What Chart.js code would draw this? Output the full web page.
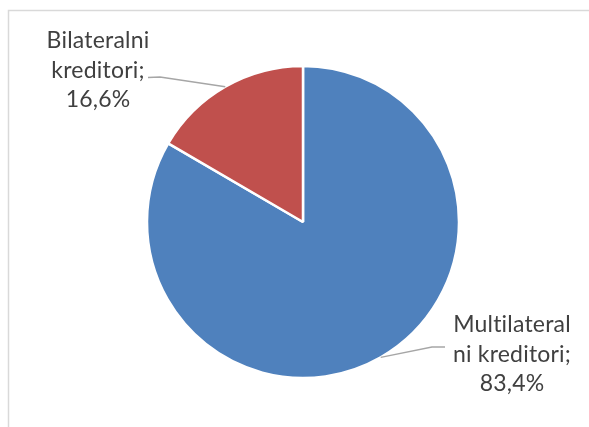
<!DOCTYPE html>
<html>
<head>
<meta charset="utf-8">
<script src="https://cdn.jsdelivr.net/npm/chart.js@4/dist/chart.umd.min.js"></script>
<style>
html,body{margin:0;padding:0;background:#fff;}
#wrap{position:relative;width:589px;height:427px;}
</style>
</head>
<body>
<div id="wrap"><canvas id="c" width="589" height="427"></canvas></div>
<script>
const categories = ["Bilateralni kreditori", "Multilateralni kreditori"];
const labelLines = [["Bilateralni", "kreditori;", "16,6%"], ["Multilateral", "ni kreditori;", "83,4%"]];
const shares = [16.6, 83.4];
const colors = ["#C0504D", "#4F81BD"];

// draw order: Multilateral first (from 12 o'clock clockwise), then Bilateral
const order = [1, 0];

const labelPlugin = {
  id: 'pieLabels',
  afterDatasetsDraw(chart, args, opts) {
    const ctx = chart.ctx;
    const meta = chart.getDatasetMeta(0);
    ctx.save();
    // frame
    ctx.strokeStyle = '#D9D9D9';
    ctx.lineWidth = 1.5;
    ctx.beginPath();
    ctx.moveTo(8.5, 430);
    ctx.lineTo(8.5, 10.5);
    ctx.lineTo(600, 10.5);
    ctx.stroke();

    const cfg = opts.items;
    meta.data.forEach((arc, i) => {
      const p = arc.getProps(['x', 'y', 'startAngle', 'endAngle', 'outerRadius'], true);
      const mid = (p.startAngle + p.endAngle) / 2;
      const sx = p.x + Math.cos(mid) * p.outerRadius;
      const sy = p.y + Math.sin(mid) * p.outerRadius;
      const c = cfg[i];
      ctx.strokeStyle = '#A6A6A6';
      ctx.lineWidth = 1.3;
      ctx.beginPath();
      ctx.moveTo(sx, sy);
      ctx.lineTo(c.elbow[0], c.elbow[1]);
      ctx.lineTo(c.end[0], c.end[1]);
      ctx.stroke();
      ctx.fillStyle = '#404040';
      ctx.font = opts.font;
      if ('letterSpacing' in ctx) ctx.letterSpacing = '0.2px';
      ctx.textAlign = 'center';
      ctx.textBaseline = 'alphabetic';
      const lines = labelLines[order[i]];
      lines.forEach((t, k) => {
        ctx.fillText(t, c.cx, c.base + k * opts.lineH);
      });
    });
    ctx.restore();
  }
};

new Chart(document.getElementById('c'), {
  type: 'pie',
  data: {
    labels: order.map(i => categories[i]),
    datasets: [{
      data: order.map(i => shares[i]),
      backgroundColor: order.map(i => colors[i]),
      borderColor: '#FFFFFF',
      borderWidth: 2.5
    }]
  },
  options: {
    responsive: false,
    animation: false,
    radius: 156,
    layout: { padding: { left: 100, right: 83, top: 20, bottom: 3 } },
    plugins: {
      legend: { display: false },
      tooltip: { enabled: false },
      pieLabels: {
        font: '23px Lato',
        lineH: 29.5,
        items: [
          { elbow: [432, 347], end: [445, 347], cx: 512, base: 332 },
          { elbow: [160, 77], end: [148, 77.5], cx: 98, base: 48 }
        ]
      }
    }
  },
  plugins: [labelPlugin]
});
</script>
</body>
</html>
